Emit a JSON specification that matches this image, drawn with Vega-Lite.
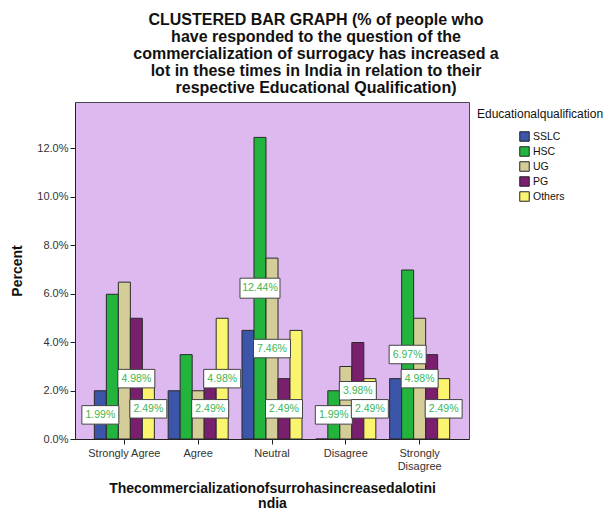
{
  "$schema": "https://vega.github.io/schema/vega-lite/v6.json",
  "width": 394,
  "height": 337,
  "autosize": {"type": "none"},
  "padding": {"left": 75, "top": 102, "right": 145, "bottom": 70},
  "background": "white",
  "config": {
    "font": "Liberation Sans",
    "view": {"fill": "#DEB9F0", "stroke": "#4a4a4a", "strokeWidth": 1},
    "axis": {"grid": false, "domainColor": "#222", "tickColor": "#222", "tickSize": 5, "labelColor": "#333", "labelFontSize": 11, "titleFontSize": 14, "titleFontWeight": "bold", "titleColor": "#111"}
  },
  "title": {
    "text": ["CLUSTERED BAR GRAPH (% of people who", "have responded to the question of the", "commercialization of surrogacy has increased a", "lot in these times in India in relation to their", "respective Educational Qualification)"],
    "fontSize": 16,
    "fontWeight": "bold",
    "lineHeight": 17,
    "color": "#111",
    "anchor": "middle",
    "dx": 44,
    "offset": 6
  },
  "data": {
    "values": [
      {"response": "Strongly Agree", "edu": "SSLC", "pct": 1.99, "shown": true},
      {"response": "Strongly Agree", "edu": "HSC", "pct": 5.97, "shown": false},
      {"response": "Strongly Agree", "edu": "UG", "pct": 6.47, "shown": false},
      {"response": "Strongly Agree", "edu": "PG", "pct": 4.98, "shown": true},
      {"response": "Strongly Agree", "edu": "Others", "pct": 2.49, "shown": true},
      {"response": "Agree", "edu": "SSLC", "pct": 1.99, "shown": false},
      {"response": "Agree", "edu": "HSC", "pct": 3.48, "shown": false},
      {"response": "Agree", "edu": "UG", "pct": 1.99, "shown": false},
      {"response": "Agree", "edu": "PG", "pct": 2.49, "shown": true},
      {"response": "Agree", "edu": "Others", "pct": 4.98, "shown": true},
      {"response": "Neutral", "edu": "SSLC", "pct": 4.48, "shown": false},
      {"response": "Neutral", "edu": "HSC", "pct": 12.44, "shown": true},
      {"response": "Neutral", "edu": "UG", "pct": 7.46, "shown": true},
      {"response": "Neutral", "edu": "PG", "pct": 2.49, "shown": true},
      {"response": "Neutral", "edu": "Others", "pct": 4.48, "shown": false},
      {"response": "Disagree", "edu": "SSLC", "pct": 0, "shown": false},
      {"response": "Disagree", "edu": "HSC", "pct": 1.99, "shown": true},
      {"response": "Disagree", "edu": "UG", "pct": 2.99, "shown": false},
      {"response": "Disagree", "edu": "PG", "pct": 3.98, "shown": true},
      {"response": "Disagree", "edu": "Others", "pct": 2.49, "shown": true},
      {"response": "Strongly Disagree", "edu": "SSLC", "pct": 2.49, "shown": false},
      {"response": "Strongly Disagree", "edu": "HSC", "pct": 6.97, "shown": true},
      {"response": "Strongly Disagree", "edu": "UG", "pct": 4.98, "shown": true},
      {"response": "Strongly Disagree", "edu": "PG", "pct": 3.48, "shown": false},
      {"response": "Strongly Disagree", "edu": "Others", "pct": 2.49, "shown": true}
    ]
  },
  "encoding": {
    "x": {
      "field": "response",
      "type": "nominal",
      "sort": ["Strongly Agree", "Agree", "Neutral", "Disagree", "Strongly Disagree"],
      "scale": {"paddingInner": 0.187, "paddingOuter": 0.262},
      "axis": {
        "labelAngle": 0,
        "labelPadding": 3,
        "labelExpr": "datum.label == 'Strongly Disagree' ? ['Strongly', 'Disagree'] : datum.label",
        "title": ["Thecommercializationofsurrohasincreasedalotini", "ndia"],
        "titlePadding": 10,
        "titleLineHeight": 15
      }
    },
    "xOffset": {
      "field": "edu",
      "type": "nominal",
      "sort": ["SSLC", "HSC", "UG", "PG", "Others"],
      "scale": {"paddingInner": 0, "paddingOuter": 0}
    }
  },
  "layer": [
    {
      "mark": {"type": "bar", "stroke": "#2a2a2a", "strokeWidth": 1},
      "encoding": {
        "y": {
          "field": "pct",
          "type": "quantitative",
          "scale": {"domain": [0, 13.9], "nice": false},
          "axis": {
            "values": [0, 2, 4, 6, 8, 10, 12],
            "labelExpr": "format(datum.value, '.1f') + '%'",
            "labelPadding": 2,
            "title": "Percent",
            "titlePadding": 12
          }
        },
        "color": {
          "field": "edu",
          "type": "nominal",
          "sort": ["SSLC", "HSC", "UG", "PG", "Others"],
          "scale": {"domain": ["SSLC", "HSC", "UG", "PG", "Others"], "range": ["#3B55A9", "#22B43D", "#D5CD97", "#7A1F6D", "#FBF46F"]},
          "legend": {
            "title": "Educationalqualification",
            "orient": "none",
            "legendX": 402,
            "legendY": 7,
            "titleFontSize": 12,
            "titleFontWeight": "normal",
            "titleColor": "#111",
            "titlePadding": 10,
            "labelFontSize": 10.5,
            "labelColor": "#111",
            "symbolType": "square",
            "symbolSize": 90,
            "symbolStrokeColor": "#222",
            "symbolStrokeWidth": 1,
            "symbolOpacity": 1,
            "symbolOffset": 42,
            "rowPadding": 0,
            "labelOffset": 3
          }
        }
      }
    },
    {
      "transform": [{"filter": "datum.shown"}],
      "mark": {"type": "point", "shape": "M-1,-0.5H1V0.5H-1Z", "filled": true, "fill": "white", "stroke": "#444", "strokeWidth": 1, "opacity": 1},
      "encoding": {
        "y": {"field": "pct", "type": "quantitative", "scale": {"domain": [0, 27.8], "nice": false}, "axis": null},
        "size": {"condition": {"test": "datum.pct >= 10", "value": 1600}, "value": 1369}
      }
    },
    {
      "transform": [{"filter": "datum.shown"}],
      "mark": {"type": "text", "color": "#3DB552", "fontSize": 10.5, "align": "center", "baseline": "middle", "text": {"expr": "format(datum.pct, '.2f') + '%'"}},
      "encoding": {
        "y": {"field": "pct", "type": "quantitative", "scale": {"domain": [0, 27.8], "nice": false}, "axis": null}
      }
    }
  ],
  "resolve": {"scale": {"y": "independent"}}
}
